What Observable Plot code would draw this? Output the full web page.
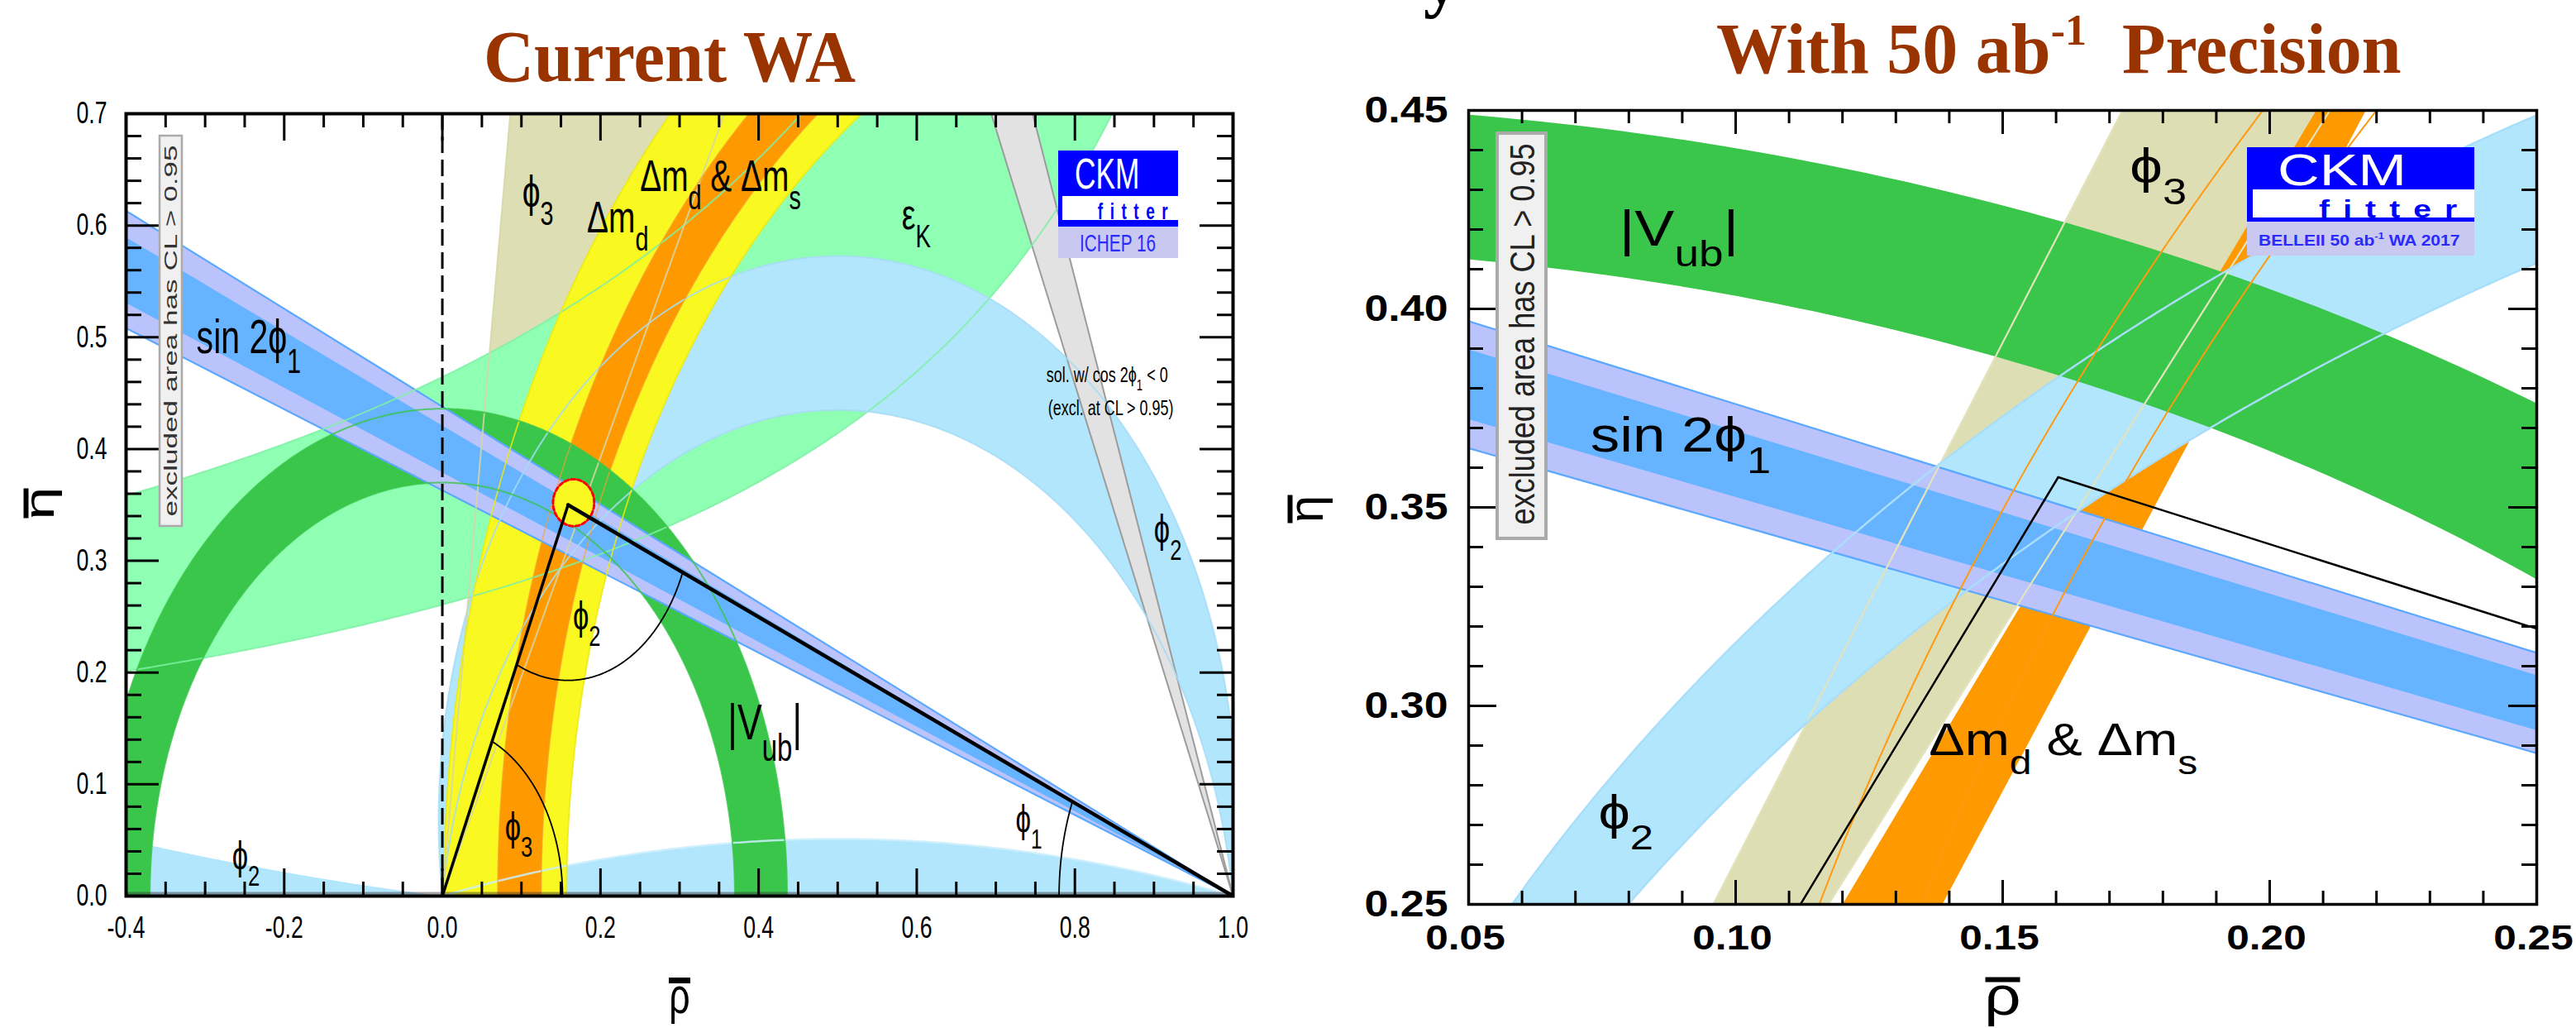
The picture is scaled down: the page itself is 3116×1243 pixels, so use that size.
<!DOCTYPE html>
<html>
<head>
<meta charset="utf-8">
<title>CKM unitarity triangle: Current WA vs 50 ab-1 precision</title>
<script src="https://cdn.jsdelivr.net/npm/d3@7"></script>
<script src="https://cdn.jsdelivr.net/npm/@observablehq/plot@0.6"></script>
<style>
  html, body { margin: 0; padding: 0; background: #fff; }
  #page { position: relative; width: 3116px; height: 1243px; overflow: hidden; background: #fff; }
  #page svg { position: absolute; top: 0; overflow: visible; }
</style>
</head>
<body>
<div id="page"></div>
<script>
// ===================== DATA =====================
// ---- Left panel: "Current WA" (ICHEP 16); rho-bar in [-0.4, 1.0], eta-bar in [0, 0.7]
const leftRhoTickLabels = [-0.4, -0.2, 0.0, 0.2, 0.4, 0.6, 0.8, 1.0];
const leftEtaTickLabels = [0.0, 0.1, 0.2, 0.3, 0.4, 0.5, 0.6, 0.7];
const leftVubRadii   = [0.370, 0.436];        // |Vub| band: annulus about (0,0)
const leftDmdRadii   = [0.843, 0.998];        // Δm_d band: annulus about (1,0)
const leftDmsRadii   = [0.875, 0.930];        // Δm_d & Δm_s band: annulus about (1,0)
const leftSin2Outer  = [19.95, 23.65];        // sin 2φ1 outer band: angle at (1,0), degrees
const leftSin2Inner  = [20.76, 22.83];        // sin 2φ1 inner band
const leftCos2Neg    = [66.4, 70.1];          // solution with cos 2φ1 < 0 (angle at (1,0))
const leftPhi3Angles = [63.0, 83.0];          // φ3 wedge at the origin, degrees
const leftEpsKPole   = 1.35;                  // εK band edges: η = k / (pole − ρ)
const leftEpsKConst  = [0.352, 0.627];
const leftPhi2Circle = [0.068, -0.070];       // φ2 band edges: circles through (0,0),(1,0), centre (0.5, c)
const leftPhi2Low    = [-2.42, 5.6];          // low-η φ2 solutions (same construction)
const leftApex       = [0.159, 0.350];        // fitted apex
const leftApexCL     = [0.166, 0.352, 0.026, 0.021]; // apex contour: centre, half-widths
const leftAngleArcs  = [0.152, 0.157, 0.220]; // radii of the φ3, φ2, φ1 angle arcs
const leftLabelText  = ["ϕ_{3}", "Δm_{d}", "Δm_{d} & Δm_{s}", "ε_{K}", "sin 2ϕ_{1}", "|V_{ub}|", "ϕ_{2}", "ϕ_{3}", "ϕ_{2}", "ϕ_{1}", "ϕ_{2}"];
const leftLabelRho   = [0.101, 0.183, 0.250, 0.581, -0.311, 0.361, 0.165, 0.079, -0.266, 0.725, 0.900];
const leftLabelEta   = [0.617, 0.594, 0.631, 0.597, 0.486, 0.140, 0.239, 0.050, 0.024, 0.057, 0.316];
const leftNoteText   = ["sol. w/ cos 2ϕ_{1} < 0", "(excl. at CL > 0.95)"];
const leftNoteRho    = [0.764, 0.766];
const leftNoteEta    = [0.460, 0.430];

// ---- Right panel: "With 50 ab-1 Precision"; rho-bar in [0.05, 0.25], eta-bar in [0.25, 0.45]
const rightRhoTickLabels = [0.05, 0.10, 0.15, 0.20, 0.25];
const rightEtaTickLabels = [0.25, 0.30, 0.35, 0.40, 0.45];
const rightVubRadii    = [0.4155, 0.4517];
const rightSin2Slopes  = [0.3841, 0.3918, 0.4103, 0.4178]; // η/(1−ρ) of the sin 2φ1 band edges
const rightPhi3Slopes  = [2.13, 2.61];                     // η/ρ of the φ3 band edges
const rightPhi2Circle  = [0.0155, -0.022];
const rightDmsLeftEdge  = [[0.1200, 0.25], [0.2087, 0.45]];
const rightDmsRightEdge = [[0.1387, 0.25], [0.2180, 0.45]];
const rightDmdRadii    = [0.9005, 0.919];                  // thin Δm_d contour lines about (1,0)
const rightApex        = [0.1604, 0.3576];
const rightLabelText   = ["|V_{ub}|", "sin 2ϕ_{1}", "ϕ_{3}", "Δm_{d} & Δm_{s}", "ϕ_{2}"];
const rightLabelRho    = [0.0782, 0.0728, 0.1738, 0.1362, 0.0743];
const rightLabelEta    = [0.416, 0.364, 0.4317, 0.2877, 0.269];

// ===================== STYLE =====================
const C = {
  epsK: "#8fffb4", vub: "#39c64a", dmd: "#f9f820", dms: "#fe9a00", phi2: "#b2e6fd",
  phi3: "#dedeb4", sinIn: "#66b3ff", sinOut: "#bbc3fd", sinEdge: "#5aa8ff",
  gray: "#e2e2e2", grayEdge: "#9c9c9c"
};
const leftLabelSize  = [54, 54, 54, 52, 57, 62, 48, 48, 48, 46, 48];
const rightLabelSize = [61, 60, 60, 55, 58];
const FONT = '"Liberation Sans", Arial, Helvetica, sans-serif';

// ===================== GEOMETRY HELPERS =====================
const DEG = Math.PI / 180;
function arcPts(cx, cy, rx, ry, a0, a1, n = 360) {
  return d3.range(n + 1).map(i => {
    const a = (a0 + (a1 - a0) * i / n) * DEG;
    return [cx + rx * Math.cos(a), cy + ry * Math.sin(a)];
  });
}
function annulus(cx, cy, r0, r1, a0, a1) {
  return [...arcPts(cx, cy, r1, r1, a0, a1), ...arcPts(cx, cy, r0, r0, a1, a0)];
}
function wedge(px, py, a0, a1, L = 3) {
  return [[px, py], [px + L * Math.cos(a0 * DEG), py + L * Math.sin(a0 * DEG)],
          [px + L * Math.cos(a1 * DEG), py + L * Math.sin(a1 * DEG)]];
}
function ray(px, py, a, L = 3) { return [[px, py], [px + L * Math.cos(a * DEG), py + L * Math.sin(a * DEG)]]; }
function alphaArc(c, n = 700) { // upper arc of the circle through (0,0) and (1,0) centred at (0.5, c)
  const r = Math.hypot(0.5, c);
  const a0 = Math.atan2(-c, 0.5) / DEG;
  let a1 = Math.atan2(-c, -0.5) / DEG;
  if (a1 < a0) a1 += 360;
  return arcPts(0.5, c, r, r, a0, a1, n);
}
function alphaBand(cOut, cIn) { return [...alphaArc(cOut), ...alphaArc(cIn).reverse()]; }
const xy = {x: d => d[0], y: d => d[1], clip: true};
const fillPoly = (pts, color) => Plot.line(pts, {...xy, fill: color, stroke: "none"});
const edge = (pts, color, w = 2, op = 0.85, extra = {}) =>
  Plot.line(pts, {...xy, fill: "none", stroke: color, strokeWidth: w, strokeOpacity: op, ...extra});

function tickMarks(xMaj, xMin, yMaj, yMin, fw, fh, lxM, lxm, lyM, lym, w) {
  const s = {stroke: "black", strokeWidth: w};
  return [
    Plot.tickX(xMaj, {x: d => d, insetTop: fh - lxM, ...s}),
    Plot.tickX(xMaj, {x: d => d, insetBottom: fh - lxM, ...s}),
    Plot.tickX(xMin, {x: d => d, insetTop: fh - lxm, ...s}),
    Plot.tickX(xMin, {x: d => d, insetBottom: fh - lxm, ...s}),
    Plot.tickY(yMaj, {y: d => d, insetRight: fw - lyM, ...s}),
    Plot.tickY(yMaj, {y: d => d, insetLeft: fw - lyM, ...s}),
    Plot.tickY(yMin, {y: d => d, insetRight: fw - lym, ...s}),
    Plot.tickY(yMin, {y: d => d, insetLeft: fw - lym, ...s})
  ];
}
// a filled bar symbol (for the bar over the axis letters)
const barSymbol = (w, h) => ({draw(ctx) {
  ctx.moveTo(-w / 2, -h / 2); ctx.lineTo(w / 2, -h / 2); ctx.lineTo(w / 2, h / 2); ctx.lineTo(-w / 2, h / 2); ctx.closePath();
}});
const bar = (x, y, dx, dy, w, h) =>
  Plot.dot([[x, y]], {x: d => d[0], y: d => d[1], dx, dy, symbol: barSymbol(w, h), fill: "black", stroke: "none", r: 5});
const r3 = v => Math.round(v * 1000) / 1000;

// ===================== LEFT PANEL =====================
const epsRho = d3.range(-0.45, 1.0501, 0.005);
const epsLower = epsRho.map(r => [r, leftEpsKConst[0] / (leftEpsKPole - r)]);
const epsUpper = epsRho.map(r => [r, leftEpsKConst[1] / (leftEpsKPole - r)]);
const epsBand = [...epsUpper, ...epsLower.slice().reverse()];

const lowDome = alphaArc(leftPhi2Low[0], 300);
const blC = leftPhi2Low[1], blR = Math.hypot(0.5, blC);
const blA0 = Math.atan2(-blC, -0.5) / DEG + 360;
const blArc = arcPts(0.5, blC, blR, blR, blA0, blA0 - 10, 300);
const lowLeft = [...blArc, [blArc[blArc.length - 1][0], 0]];

const apexAngO = Math.atan2(leftApex[1], leftApex[0]) / DEG;
const apexAng1 = Math.atan2(leftApex[1], leftApex[0] - 1) / DEG;
const phi2A0 = Math.atan2(-leftApex[1], -leftApex[0]) / DEG + 360;
const phi2A1 = Math.atan2(-leftApex[1], 1 - leftApex[0]) / DEG + 360;

const lxMaj = d3.range(-0.2, 0.81, 0.2).map(r3);
const lxMin = d3.range(-0.35, 0.96, 0.05).map(r3).filter(v => Math.abs(v / 0.2 - Math.round(v / 0.2)) > 1e-6);
const lyMaj = d3.range(0.1, 0.61, 0.1).map(r3);
const lyMin = d3.range(0.02, 0.69, 0.02).map(r3).filter(v => Math.abs(v / 0.1 - Math.round(v / 0.1)) > 1e-6);
const LX = [-0.4, 1.0], LY = [0, 0.7];

const leftSvg = Plot.plot({
  width: 1560, height: 1243,
  marginLeft: 152, marginRight: 69, marginTop: 137, marginBottom: 160,
  x: {domain: LX},
  y: {domain: LY},
  style: {fontFamily: FONT, background: "transparent", overflow: "visible", color: "black"},
  marks: [
    fillPoly(wedge(0, 0, leftPhi3Angles[0], leftPhi3Angles[1]), C.phi3),
    fillPoly(epsBand, C.epsK),
    fillPoly(alphaBand(leftPhi2Circle[0], leftPhi2Circle[1]), C.phi2),
    fillPoly(lowDome, C.phi2),
    fillPoly(lowLeft, C.phi2),
    fillPoly(annulus(1, 0, leftDmdRadii[0], leftDmdRadii[1], 100, 180), C.dmd),
    fillPoly(annulus(1, 0, leftDmsRadii[0], leftDmsRadii[1], 100, 180), C.dms),
    fillPoly(annulus(0, 0, leftVubRadii[0], leftVubRadii[1], 0, 180), C.vub),
    fillPoly(wedge(1, 0, 180 - leftSin2Outer[1], 180 - leftSin2Outer[0]), C.sinOut),
    fillPoly(wedge(1, 0, 180 - leftSin2Inner[1], 180 - leftSin2Inner[0]), C.sinIn),
    edge(ray(1, 0, 180 - leftSin2Outer[0]), C.sinEdge, 2.2, 1),
    edge(ray(1, 0, 180 - leftSin2Outer[1]), C.sinEdge, 2.2, 1),
    fillPoly(wedge(1, 0, 180 - leftCos2Neg[1], 180 - leftCos2Neg[0]), C.gray),
    edge(ray(1, 0, 180 - leftCos2Neg[0]), C.grayEdge, 2, 1),
    edge(ray(1, 0, 180 - leftCos2Neg[1]), C.grayEdge, 2, 1),
    // thin contour lines of every constraint, drawn over the fills
    edge(epsUpper, "#7ff0a4", 2), edge(epsLower, "#7ff0a4", 2),
    edge(alphaArc(leftPhi2Circle[0]), "#a6dcf5", 2), edge(alphaArc(leftPhi2Circle[1]), "#a6dcf5", 2),
    edge(lowDome, "#cdeefc", 2.5),
    edge(ray(0, 0, leftPhi3Angles[0]), "#d6d6a6", 2), edge(ray(0, 0, leftPhi3Angles[1]), "#d6d6a6", 2),
    edge(arcPts(1, 0, leftDmdRadii[0], leftDmdRadii[0], 100, 180), "#eaea10", 1.8),
    edge(arcPts(1, 0, leftDmdRadii[1], leftDmdRadii[1], 100, 180), "#eaea10", 1.8),
    edge(arcPts(1, 0, leftDmsRadii[0], leftDmsRadii[0], 100, 180), "#f5a030", 1.5, 0.7),
    edge(arcPts(1, 0, leftDmsRadii[1], leftDmsRadii[1], 100, 180), "#f5a030", 1.5, 0.7),
    edge(arcPts(0, 0, leftVubRadii[0], leftVubRadii[0], 0, 180), "#39c64a", 2, 0.8),
    edge(arcPts(0, 0, leftVubRadii[1], leftVubRadii[1], 0, 180), "#39c64a", 2, 0.8),
    Plot.ruleX([0], {stroke: "black", strokeWidth: 3, strokeDasharray: "20,8"}),
    Plot.ruleY([0], {stroke: "#333", strokeOpacity: 0.45, strokeWidth: 10, clip: true}),
    // apex contour
    Plot.line(arcPts(leftApexCL[0], leftApexCL[1], leftApexCL[2], leftApexCL[3], 0, 360, 120),
      {...xy, fill: C.dmd, stroke: "#ff0000", strokeWidth: 3, strokeDasharray: "5,3"}),
    // triangle and angles
    edge([[0, 0], leftApex], "black", 3.5, 1),
    edge([leftApex, [1, 0]], "black", 4.5, 1),
    edge(arcPts(0, 0, leftAngleArcs[0], leftAngleArcs[0], 0, apexAngO), "black", 1.8, 1),
    edge(arcPts(leftApex[0], leftApex[1], leftAngleArcs[1], leftAngleArcs[1], phi2A0, phi2A1), "black", 1.8, 1),
    edge(arcPts(1, 0, leftAngleArcs[2], leftAngleArcs[2], apexAng1, 180), "black", 1.8, 1),
    // labels
    Plot.text(d3.range(leftLabelText.length), {
      x: i => leftLabelRho[i], y: i => leftLabelEta[i], text: i => leftLabelText[i],
      fontSize: i => leftLabelSize[i], textAnchor: "start", lineAnchor: "bottom", fill: "black"
    }),
    Plot.text(d3.range(leftNoteText.length), {
      x: i => leftNoteRho[i], y: i => leftNoteEta[i], text: i => leftNoteText[i],
      fontSize: 25, textAnchor: "start", lineAnchor: "bottom", fill: "black"
    }),
    // axes
    ...tickMarks(lxMaj, lxMin, lyMaj, lyMin, 1339, 946, 33, 17, 40, 19, 3),
    Plot.axisX({anchor: "bottom", ticks: leftRhoTickLabels, tickSize: 0, tickPadding: 24, fontSize: 37,
      tickFormat: d => d.toFixed(1), label: null}),
    Plot.axisY({anchor: "left", ticks: leftEtaTickLabels, tickSize: 0, tickPadding: 23, fontSize: 37,
      tickFormat: d => d.toFixed(1), label: null}),
    Plot.text(["ρ"], {frameAnchor: "bottom", dy: 122, fontSize: 62, lineAnchor: "middle", textAnchor: "middle"}),
    bar((LX[0] + LX[1]) / 2, LY[0], 0, 102, 26, 7),
    Plot.text(["η"], {frameAnchor: "left", dx: -104, dy: -2, rotate: -90, fontSize: 50, lineAnchor: "middle", textAnchor: "middle"}),
    bar(LX[0], (LY[0] + LY[1]) / 2, -121, -2, 6, 36),
    Plot.frame({stroke: "black", strokeWidth: 4})
  ]
});

// ===================== RIGHT PANEL =====================
const rxMaj = [0.10, 0.15, 0.20];
const rxMin = d3.range(0.06, 0.245, 0.01).map(r3).filter(v => Math.abs(v / 0.05 - Math.round(v / 0.05)) > 1e-6);
const ryMaj = [0.30, 0.35, 0.40];
const ryMin = d3.range(0.26, 0.445, 0.01).map(r3).filter(v => Math.abs(v / 0.05 - Math.round(v / 0.05)) > 1e-6);
const slopeDeg = s => Math.atan(s) / DEG;
const RX = [0.05, 0.25], RY = [0.25, 0.45];

const rightSvg = Plot.plot({
  width: 1616, height: 1243,
  marginLeft: 276, marginRight: 48, marginTop: 133, marginBottom: 150,
  x: {domain: RX},
  y: {domain: RY},
  style: {fontFamily: FONT, background: "transparent", overflow: "visible", color: "black"},
  marks: [
    fillPoly(wedge(0, 0, slopeDeg(rightPhi3Slopes[0]), slopeDeg(rightPhi3Slopes[1])), C.phi3),
    fillPoly([...rightDmsLeftEdge, ...rightDmsRightEdge.slice().reverse()], C.dms),
    fillPoly(alphaBand(rightPhi2Circle[0], rightPhi2Circle[1]), C.phi2),
    fillPoly(annulus(0, 0, rightVubRadii[0], rightVubRadii[1], 0, 180), C.vub),
    fillPoly(wedge(1, 0, 180 - slopeDeg(rightSin2Slopes[3]), 180 - slopeDeg(rightSin2Slopes[0])), C.sinOut),
    fillPoly(wedge(1, 0, 180 - slopeDeg(rightSin2Slopes[2]), 180 - slopeDeg(rightSin2Slopes[1])), C.sinIn),
    edge(ray(1, 0, 180 - slopeDeg(rightSin2Slopes[0])), C.sinEdge, 2.2, 1),
    edge(ray(1, 0, 180 - slopeDeg(rightSin2Slopes[3])), C.sinEdge, 2.2, 1),
    // thin contour lines
    edge(ray(0, 0, slopeDeg(rightPhi3Slopes[0])), "#e3e3bd", 2.2, 1),
    edge(ray(0, 0, slopeDeg(rightPhi3Slopes[1])), "#e3e3bd", 2.2, 1),
    edge(alphaArc(rightPhi2Circle[0], 2000), "#a9defa", 2.5, 1),
    edge(alphaArc(rightPhi2Circle[1], 2000), "#a9defa", 2.5, 1),
    edge(arcPts(1, 0, rightDmdRadii[0], rightDmdRadii[0], 140, 170, 400), "#ff9a10", 2, 1),
    edge(arcPts(1, 0, rightDmdRadii[1], rightDmdRadii[1], 140, 170, 400), "#ff9a10", 2, 1),
    // triangle
    edge([[0, 0], rightApex], "black", 2.5, 1),
    edge([rightApex, [1, 0]], "black", 2.5, 1),
    // labels
    Plot.text(d3.range(rightLabelText.length), {
      x: i => rightLabelRho[i], y: i => rightLabelEta[i], text: i => rightLabelText[i],
      fontSize: i => rightLabelSize[i], textAnchor: "start", lineAnchor: "bottom", fill: "black"
    }),
    // axes
    ...tickMarks(rxMaj, rxMin, ryMaj, ryMin, 1292, 960, 29, 16, 34, 18, 3),
    Plot.axisX({anchor: "bottom", ticks: rightRhoTickLabels, tickSize: 0, tickPadding: 25, fontSize: 42, dx: -4,
      fontWeight: "bold", tickFormat: d => d.toFixed(2), label: null}),
    Plot.axisY({anchor: "left", ticks: rightEtaTickLabels, tickSize: 0, tickPadding: 25, fontSize: 44,
      fontWeight: "bold", tickFormat: d => d.toFixed(2), label: null}),
    Plot.text(["ρ"], {frameAnchor: "bottom", dy: 112, fontSize: 66, lineAnchor: "middle", textAnchor: "middle"}),
    bar((RX[0] + RX[1]) / 2, RY[0], 0, 91, 42, 6),
    Plot.text(["η"], {frameAnchor: "left", dx: -196, dy: 2, rotate: -90, fontSize: 60, lineAnchor: "middle", textAnchor: "middle"}),
    bar(RX[0], (RY[0] + RY[1]) / 2, -216, 2, 6, 34),
    Plot.frame({stroke: "black", strokeWidth: 3.5})
  ]
});

// ===================== ASSEMBLY =====================
const page = document.getElementById("page");
leftSvg.style.left = "0px";
rightSvg.style.left = "1500px";
page.appendChild(leftSvg);
page.appendChild(rightSvg);

// sub/superscript markup  x_{..}  ->  tspans
function richText(svg) {
  svg.querySelectorAll("text").forEach(t => {
    const s = t.textContent;
    if (!/[_^]\{/.test(s)) return;
    const fs = parseFloat(getComputedStyle(t).fontSize) || 40;
    const parts = [];
    const re = /([_^])\{([^}]*)\}/g;
    let last = 0, m;
    while ((m = re.exec(s))) {
      if (m.index > last) parts.push({t: s.slice(last, m.index), k: 0});
      parts.push({t: m[2], k: m[1] === "_" ? 1 : -1});
      last = re.lastIndex;
    }
    if (last < s.length) parts.push({t: s.slice(last), k: 0});
    while (t.firstChild) t.removeChild(t.firstChild);
    let cur = 0;
    for (const p of parts) {
      const ts = document.createElementNS("http://www.w3.org/2000/svg", "tspan");
      const target = p.k === 1 ? 0.42 * fs : p.k === -1 ? -0.45 * fs : 0;
      ts.setAttribute("dy", (target - cur).toFixed(2));
      cur = target;
      if (p.k) ts.setAttribute("font-size", (0.74 * fs).toFixed(1));
      ts.textContent = p.t;
      t.appendChild(ts);
    }
  });
}
// the reference figures are anisotropically stretched: reproduce it on the glyphs
function scaleTexts(svg, sx, sxRot) {
  svg.querySelectorAll("text").forEach(t => {
    let tr = t.getAttribute("transform") || "";
    const xa = t.getAttribute("x");
    if (xa && !/em/.test(xa)) { tr += ` translate(${xa},0)`; t.setAttribute("x", 0); }
    const s = /rotate/.test(tr) ? sxRot : sx;
    t.setAttribute("transform", `${tr} scale(${s},1)`);
  });
}
richText(leftSvg); richText(rightSvg);
scaleTexts(leftSvg, 0.72, 1.45);
scaleTexts(rightSvg, 1.18, 1.0);

// titles, logos and the "excluded area" boxes
const overlay = `
<svg xmlns="http://www.w3.org/2000/svg" width="3116" height="1243" style="left:0;top:0">
  <g font-family="'Liberation Serif','Times New Roman',serif" font-weight="bold" fill="#993300">
    <text x="585" y="98" font-size="89" textLength="450" lengthAdjust="spacingAndGlyphs">Current WA</text>
    <text x="2076" y="88" font-size="86">With 50 ab<tspan font-size="52" dy="-34">-1</tspan><tspan dy="34">\u00a0\u00a0Precision</tspan></text>
    <text x="1722" y="4" font-size="86" fill="#000">y</text>
  </g>
  <g font-family='${FONT}'>
    <rect x="1280" y="182" width="145" height="92" fill="#0000ff"/>
    <rect x="1285" y="237" width="140" height="29" fill="#ffffff"/>
    <rect x="1280" y="274" width="145" height="38" fill="#c8c8f0"/>
    <g transform="translate(1300,0) scale(0.68,1)">
      <text x="0" y="228" font-size="52" fill="#ffffff">CKM</text>
      <text x="41" y="265" font-size="28" font-weight="bold" fill="#0000ff" letter-spacing="12.5">fitter</text>
    </g>
    <text x="1306" y="304" font-size="30" fill="#2a2aff" textLength="92" lengthAdjust="spacingAndGlyphs">ICHEP 16</text>

    <rect x="2718" y="178" width="275" height="90" fill="#0000ff"/>
    <rect x="2725" y="229" width="268" height="34" fill="#ffffff"/>
    <rect x="2718" y="268" width="275" height="41" fill="#c8c8f0"/>
    <g transform="translate(2755,0) scale(1.3,1)">
      <text x="0" y="224" font-size="54" fill="#ffffff">CKM</text>
      <text x="38.5" y="263" font-size="30" font-weight="bold" fill="#0000ff" letter-spacing="12.4">fitter</text>
    </g>
    <text transform="translate(2732,297) scale(1.17,1)" font-size="18" font-weight="bold" fill="#2a2aff">BELLEII 50 ab<tspan font-size="11" dy="-8">-1</tspan><tspan dy="8"> WA 2017</tspan></text>

    <rect x="193" y="164" width="27" height="472" fill="#f0f0f0" stroke="#aaaaaa" stroke-width="2.5"/>
    <text transform="translate(214,400) rotate(-90)" text-anchor="middle" font-size="22" fill="#333"
      textLength="449" lengthAdjust="spacingAndGlyphs">excluded area has CL &gt; 0.95</text>
    <rect x="1811" y="161" width="59" height="490" fill="#f0f0f0" stroke="#aaaaaa" stroke-width="4"/>
    <text transform="translate(1856,404) rotate(-90)" text-anchor="middle" font-size="42" fill="#222"
      textLength="461" lengthAdjust="spacingAndGlyphs">excluded area has CL &gt; 0.95</text>
  </g>
</svg>`;
page.insertAdjacentHTML("beforeend", overlay);
</script>
</body>
</html>
